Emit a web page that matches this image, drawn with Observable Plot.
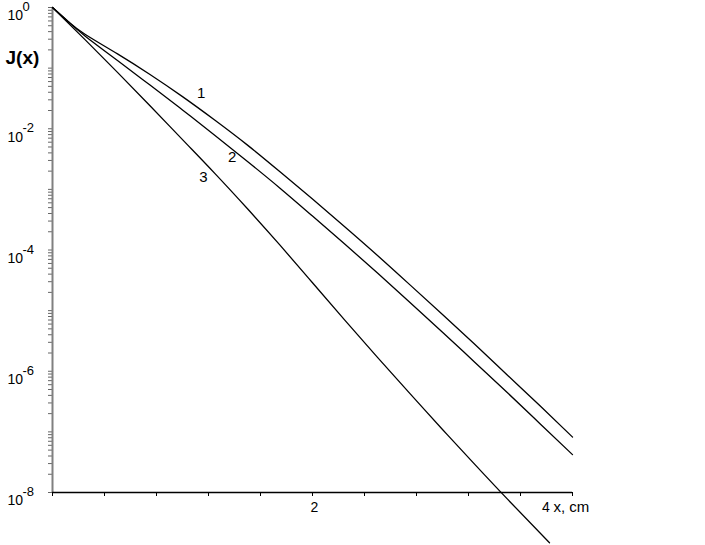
<!DOCTYPE html>
<html>
<head>
<meta charset="utf-8">
<script src="https://cdn.jsdelivr.net/npm/d3@7"></script>
<script src="https://cdn.jsdelivr.net/npm/@observablehq/plot@0.6"></script>
<style>
  html, body { margin: 0; padding: 0; background: #fff; }
  svg text { font-family: "Liberation Sans", Arial, sans-serif; }
</style>
</head>
<body>
<div id="chart"></div>
<script>
// x positions (cm) at which the curves were read
const xs1 = [0, 0.12, 0.25, 0.5, 0.75, 1.0, 1.25, 1.5, 1.75, 2.0, 2.25, 2.5, 2.75, 3.0, 3.25, 3.5, 3.75, 4.0];
// log10 J(x) for curve 1
const logJ1 = [0, -0.23, -0.44, -0.765, -1.105, -1.47, -1.86, -2.27, -2.71, -3.16, -3.62, -4.09, -4.575, -5.065, -5.56, -6.065, -6.57, -7.085];
const xs2 = [0, 0.12, 0.25, 0.5, 0.75, 1.0, 1.25, 1.5, 1.75, 2.0, 2.25, 2.5, 2.75, 3.0, 3.25, 3.5, 3.75, 4.0];
// log10 J(x) for curve 2
const logJ2 = [0, -0.23, -0.47, -0.875, -1.28, -1.69, -2.11, -2.54, -2.98, -3.44, -3.905, -4.38, -4.865, -5.355, -5.855, -6.355, -6.865, -7.375];
const xs3 = [0, 0.25, 0.5, 0.75, 1.0, 1.25, 1.5, 1.75, 2.0, 2.25, 2.5, 2.75, 3.0, 3.25, 3.5, 3.823];
// log10 J(x) for curve 3
const logJ3 = [0, -0.53, -1.07, -1.62, -2.18, -2.74, -3.32, -3.92, -4.54, -5.16, -5.77, -6.37, -6.96, -7.54, -8.11, -8.83];

// curve labels
const curveNames = ["1", "2", "3"];
const labelX = [1.144, 1.382, 1.16];
const labelLogY = [-1.417, -2.474, -2.805];

// axis ticks
const xTicks = [0, 0.4, 0.8, 1.2, 1.6, 2.0, 2.4, 2.8, 3.2, 3.6, 4.0];
const xTickLabels = ["2"];
const xTickLabelValues = [2];
const yMajorExponents = [0, -2, -4, -6, -8];
const yDecades = [-8, -7, -6, -5, -4, -3, -2, -1];
const yMultipliers = [1, 2, 3, 4, 5, 6, 7, 8, 9];

const yTicks = [1];
for (const e of yDecades) for (const m of yMultipliers) yTicks.push(m * Math.pow(10, e));

const rows = [];
xs1.forEach((x, i) => rows.push({curve: "1", x, y: Math.pow(10, logJ1[i])}));
xs2.forEach((x, i) => rows.push({curve: "2", x, y: Math.pow(10, logJ2[i])}));
xs3.forEach((x, i) => rows.push({curve: "3", x, y: Math.pow(10, logJ3[i])}));

const labels = curveNames.map((t, i) => ({t, x: labelX[i], y: Math.pow(10, labelLogY[i])}));
const majors = yMajorExponents.map(e => ({e, v: Math.pow(10, e)}));

const chart = Plot.plot({
  width: 705,
  height: 545,
  marginLeft: 52,
  marginRight: 133,
  marginTop: 7,
  marginBottom: 53,
  x: {domain: [0, 4], axis: null},
  y: {type: "log", domain: [1e-8, 1], axis: null},
  style: {background: "#fff", color: "#000"},
  marks: [
    Plot.axisY(yTicks, {anchor: "left", tickSize: 4, tickFormat: () => "", label: null, stroke: "#666"}),
    Plot.axisX(xTicks, {anchor: "bottom", tickSize: 4, tickFormat: () => "", label: null, stroke: "#000"}),
    Plot.ruleX([0], {stroke: "#808080", strokeWidth: 2}),
    Plot.ruleY([1e-8], {stroke: "#000", strokeWidth: 1.5}),
    Plot.line(rows, {x: "x", y: "y", z: "curve", stroke: "#000", strokeWidth: 1.3, curve: "natural"}),
    Plot.text(labels, {x: "x", y: "y", text: "t", fontSize: 15, fill: "#000"}),
    Plot.text(majors, {x: () => 0, y: "v", text: () => "10", dx: -45, dy: 8.5, textAnchor: "start", fontSize: 14, fill: "#000"}),
    Plot.text(majors, {x: () => 0, y: "v", text: d => String(d.e), dx: -30, dy: -0.5, textAnchor: "start", fontSize: 13, fill: "#000"}),
    Plot.text(xTickLabelValues, {x: d => d, y: () => 1e-8, text: (d, i) => xTickLabels[i], dx: 2, dy: 15, fontSize: 14, fill: "#000"}),
    Plot.text(["4"], {x: () => 4, y: () => 1e-8, text: d => d, dx: -26.5, dy: 15, fontSize: 14, fill: "#000"}),
    Plot.text(["x, cm"], {x: () => 4, y: () => 1e-8, text: d => d, dx: -19, dy: 15, textAnchor: "start", fontSize: 15, fill: "#000"}),
    Plot.text(["J(x)"], {frameAnchor: "top-left", text: d => d, dx: -47, dy: 43, textAnchor: "start", fontSize: 19, fontWeight: "bold", fill: "#000"})
  ]
});
document.getElementById("chart").appendChild(chart);
</script>
</body>
</html>
